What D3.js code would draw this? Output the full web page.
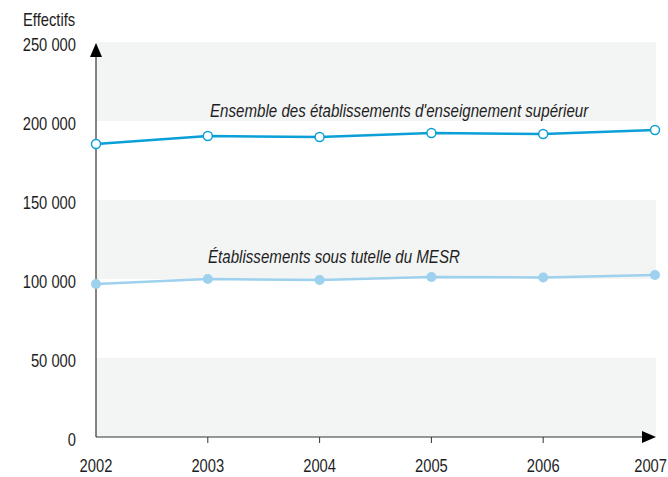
<!DOCTYPE html>
<html>
<head>
<meta charset="utf-8">
<script src="https://cdn.jsdelivr.net/npm/d3@7"></script>
<style>
  html, body { margin: 0; padding: 0; background: #fff; }
  svg text { font-family: "Liberation Sans", Arial, sans-serif; fill: #1e1e1e; }
</style>
</head>
<body>
<svg id="chart" width="668" height="477"></svg>
<script>
// Effectifs par année
const years = [2002, 2003, 2004, 2005, 2006, 2007];
const ensemble = [185400, 190500, 189900, 192400, 191800, 194300];
const mesr = [96800, 100000, 99400, 101300, 101000, 102500];
const yTicks = [0, 50000, 100000, 150000, 200000, 250000];
const seriesLabels = ["Ensemble des établissements d'enseignement supérieur", "Établissements sous tutelle du MESR"];

const svg = d3.select("#chart");
const x = d3.scaleLinear().domain([2002, 2007]).range([96, 655]);
const y = d3.scaleLinear().domain([0, 250000]).range([437, 42]);

const fmt = v => v === 0 ? "0" : d3.format(",")(v).replace(/,/g, " ");
// horizontal condensing for the narrow typeface
const place = (px, py, sx = 0.82) => `translate(${px},${py}) scale(${sx},1)`;

// alternating shaded bands
const bands = [[0, 50000], [100000, 150000], [200000, 250000]];
svg.append("g").selectAll("rect").data(bands).join("rect")
  .attr("x", x(2002)).attr("width", x(2007) - x(2002) + 1)
  .attr("y", d => y(d[1])).attr("height", d => y(d[0]) - y(d[1]))
  .attr("fill", "#f3f4f4");

// y tick labels
svg.append("g").selectAll("text").data(yTicks).join("text")
  .attr("transform", d => place(76, y(d) + 8.5))
  .attr("text-anchor", "end").attr("font-size", 18)
  .text(fmt);

svg.append("text").attr("transform", place(23, 26)).attr("font-size", 18).text("Effectifs");

// x ticks and labels
svg.append("g").selectAll("line").data(years.slice(1, -1)).join("line")
  .attr("x1", d => x(d)).attr("x2", d => x(d))
  .attr("y1", y(0)).attr("y2", y(0) + 6)
  .attr("stroke", "#333").attr("stroke-width", 1);
svg.append("g").selectAll("text").data(years).join("text")
  .attr("transform", (d, i) => i === years.length - 1 ? place(667, 472) : place(x(d), 472))
  .attr("text-anchor", (d, i) => i === years.length - 1 ? "end" : "middle")
  .attr("font-size", 18)
  .text(d => d);

// axes with arrowheads
svg.append("line").attr("x1", x(2002)).attr("x2", x(2002))
  .attr("y1", y(0)).attr("y2", 52).attr("stroke", "#333").attr("stroke-width", 1.2);
svg.append("path").attr("d", `M${x(2002) - 6},57 L${x(2002)},43 L${x(2002) + 6},57 Z`).attr("fill", "#000");
svg.append("line").attr("x1", x(2002)).attr("x2", 648)
  .attr("y1", y(0)).attr("y2", y(0)).attr("stroke", "#333").attr("stroke-width", 1.2);
svg.append("path").attr("d", `M642,${y(0) - 6} L656,${y(0)} L642,${y(0) + 6} Z`).attr("fill", "#000");

const line = d3.line().x((d, i) => x(years[i])).y(d => y(d));

// main series: open markers
svg.append("path").datum(ensemble).attr("d", line)
  .attr("fill", "none").attr("stroke", "#0a9fd6").attr("stroke-width", 2.5);
svg.append("g").selectAll("circle").data(ensemble).join("circle")
  .attr("cx", (d, i) => x(years[i])).attr("cy", d => y(d)).attr("r", 4.5)
  .attr("fill", "#fff").attr("stroke", "#0a9fd6").attr("stroke-width", 1.5);

// MESR series: filled markers
svg.append("path").datum(mesr).attr("d", line)
  .attr("fill", "none").attr("stroke", "#9dd1ee").attr("stroke-width", 2.5);
svg.append("g").selectAll("circle").data(mesr).join("circle")
  .attr("cx", (d, i) => x(years[i])).attr("cy", d => y(d)).attr("r", 5)
  .attr("fill", "#9dd1ee");

// series labels
svg.append("text").attr("transform", place(210, 117, 0.84)).attr("font-size", 18)
  .attr("font-style", "italic").text(seriesLabels[0]);
svg.append("text").attr("transform", place(208, 263, 0.84)).attr("font-size", 18)
  .attr("font-style", "italic").text(seriesLabels[1]);
</script>
</body>
</html>
